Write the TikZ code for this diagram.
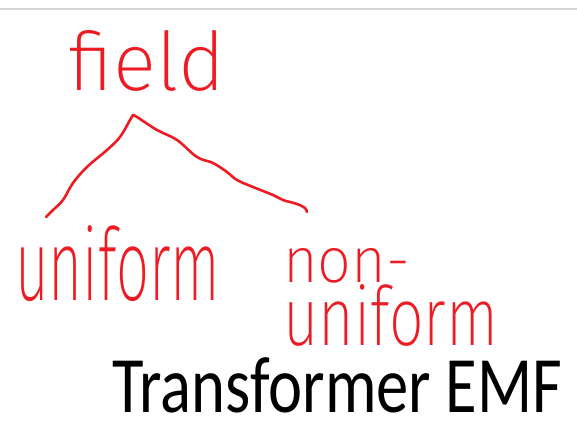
\documentclass[tikz,border=0pt]{standalone}
\usepackage{fontspec}
\usepackage{graphicx}
\newfontfamily\titlefont{Carlito}
% thin sans for the red ink words, falling back to heavier weights
\IfFontExistsTF{Fira Sans ExtraLight}
  {\newfontfamily\handfont{Fira Sans ExtraLight}}
  {\IfFontExistsTF{Fira Sans Light}
     {\newfontfamily\handfont{Fira Sans Light}}
     {\newfontfamily\handfont{Fira Sans}}}
\definecolor{inkred}{RGB}{237,28,36}
\definecolor{rulegray}{RGB}{212,212,212}
\tikzset{
  ink/.style={draw=inkred, line width=2.6pt, line cap=round, line join=round},
  handword/.style={text=inkred, inner sep=0pt, anchor=base west, font=\handfont},
  titleword/.style={text=black, inner sep=0pt, anchor=base west, font=\titlefont\fontsize{80}{80}\selectfont},
}
\begin{document}
\begin{tikzpicture}[x=1pt, y=-1pt]
  \useasboundingbox (0,0) rectangle (577,426);
  \fill[white] (0,0) rectangle (577,426);
  % thin rule along the top edge
  \draw[rulegray, line width=2pt] (0,9) -- (577,9);

  % words
  \node[handword] (field) at (68,90) {\resizebox{157pt}{60pt}{field}};
  \node[handword] (unif) at (15,300) {\resizebox{205pt}{75pt}{uniform}};
  \node[handword] (non) at (283,282) {\resizebox{127pt}{34pt}{non-}};
  \node[handword] (nonunif) at (283,345) {\resizebox{215pt}{61pt}{uniform}};

  % branch points of the tree
  \coordinate (apex) at (133,115);
  \coordinate (lend) at (46,217);
  \coordinate (rend) at (307,212);

  \draw[ink] plot[smooth, tension=0.6] coordinates
    {(lend) (53,210) (63,200) (73,183) (87,167) (107,150) (120,137) (130,120) (apex)};
  \draw[ink] plot[smooth, tension=0.6] coordinates
    {(apex) (137,117) (157,130) (177,140) (197,157) (213,163) (227,172) (237,180)
     (253,187) (273,195) (283,200) (297,204) (305,208) (rend)};

  % title
  \node[titleword] (title) at (112,412) {\resizebox{450pt}{\height}{Transformer EMF}};
\end{tikzpicture}
\end{document}
